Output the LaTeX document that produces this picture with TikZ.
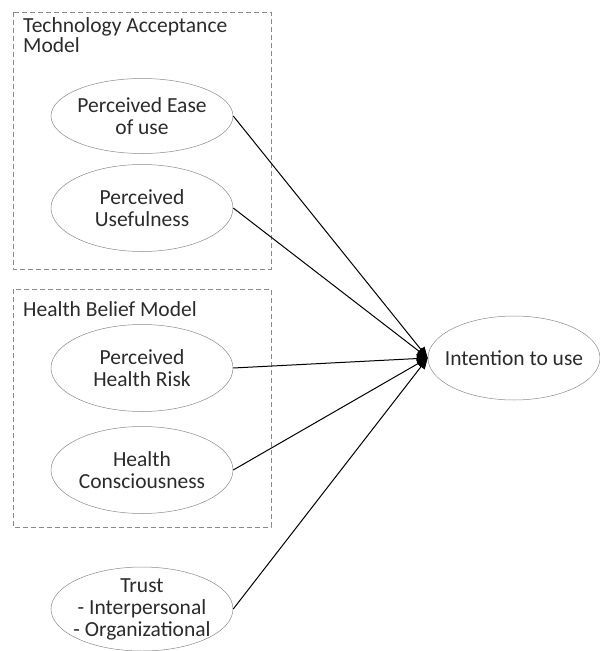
\documentclass[tikz,border=0pt]{standalone}
\usepackage{fontspec}
\setmainfont{Carlito}
\usetikzlibrary{shapes.geometric}
\usetikzlibrary{arrows.meta}
\definecolor{txtgray}{HTML}{2B2B2B}
\definecolor{linegray}{HTML}{8A8A8A}

\begin{document}
\begin{tikzpicture}[x = 1pt, y = -1pt,
        construct/.style = {ellipse, draw = linegray, line width = 0.5pt, inner xsep = -30pt, inner ysep = -20pt,
            minimum width = 182pt, minimum height = 87pt, align = center,
            text = txtgray, font = \fontsize{21.5}{22}\selectfont},
        modelbox/.style = {draw = linegray, dashed, dash pattern = on 5pt off 3pt, line width = 0.7pt},
        boxtitle/.style = {anchor = north west, inner sep = 0pt, align = left,
            text = txtgray, font = \fontsize{21.5}{20.5}\selectfont},
        link/.style = {-{Triangle[length = 11pt, width = 9pt]}, line width = 1pt, black}]
            \useasboundingbox (0, 0) rectangle (600, 651);

            % model frames
            \draw [modelbox] (13, 12) rectangle (271, 269);
            \draw [modelbox] (13, 289) rectangle (271, 527);
            \node [boxtitle] (tamtitle) at (23, 17) {Technology Acceptance\\Model};
            \node [boxtitle] (hbmtitle) at (23, 301) {Health Belief Model};

            % constructs
            \node [construct, minimum height = 75pt] (peou) at (142, 116) {Perceived Ease\\of use};
            \node [construct] (pu) at (142, 208) {Perceived\\Usefulness};
            \node [construct] (phr) at (142, 368) {Perceived\\Health Risk};
            \node [construct] (hc) at (142, 470) {Health\\Consciousness};
            \node [construct, minimum height = 84pt] (trust) at (142, 609) {Trust\\- Interpersonal\\- Organizational};
            \node [construct, minimum width = 172pt, minimum height = 84pt] (itu) at (514, 358) {Intention to use};

            \draw [link] (peou.east) -- (itu.west);
            \draw [link] (pu.east) -- (itu.west);
            \draw [link] (phr.east) -- (itu.west);
            \draw [link] (hc.east) -- (itu.west);
            \draw [link] (trust.east) -- (itu.west);
        \end{tikzpicture}
\end{document}
